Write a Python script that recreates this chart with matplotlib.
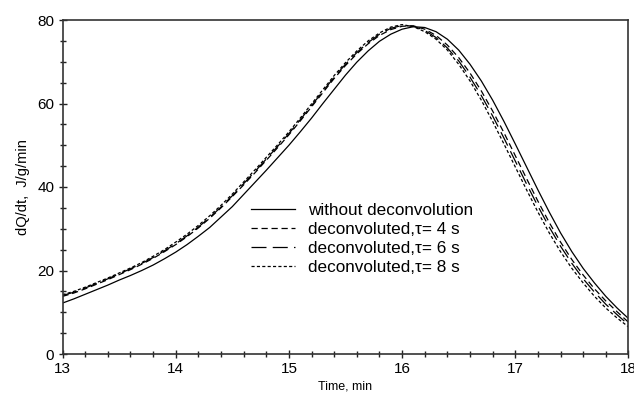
import numpy as np
import matplotlib
matplotlib.use("Agg")
import matplotlib.pyplot as plt
from matplotlib.ticker import MultipleLocator

plt.rcParams['font.family'] = ['Liberation Sans', 'DejaVu Sans']

# ===== data =====
t = np.round(np.arange(130, 181) / 10.0, 1)   # 13.0 ... 18.0 min

q_raw = [12.2, 13.2, 14.3, 15.4, 16.5, 17.7, 18.8, 20.0, 21.3, 22.8,
         24.4, 26.2, 28.2, 30.3, 32.8, 35.3, 38.2, 41.1, 44.0, 47.0,
         50.0, 53.2, 56.5, 60.0, 63.4, 66.8, 69.9, 72.6, 74.9, 76.6,
         77.8, 78.4, 78.2, 77.2, 75.4, 72.8, 69.4, 65.4, 60.8, 55.7,
         50.3, 44.8, 39.3, 34.0, 29.0, 24.5, 20.5, 17.0, 13.8, 11.0,
         8.5]

q_tau4 = [13.8, 14.6, 15.6, 16.7, 17.8, 19.0, 20.2, 21.5, 22.9, 24.5,
          26.2, 28.1, 30.2, 32.5, 35.0, 37.7, 40.5, 43.4, 46.4, 49.4,
          52.5, 55.8, 59.2, 62.6, 66.0, 69.1, 71.9, 74.3, 76.3, 77.7,
          78.5, 78.6, 77.8, 76.3, 74.0, 71.0, 67.3, 63.0, 58.2, 53.0,
          47.5, 42.0, 36.6, 31.5, 26.8, 22.6, 18.9, 15.6, 12.7, 10.1,
          7.6]

q_tau6 = [14.0, 14.8, 15.8, 16.9, 18.0, 19.2, 20.4, 21.7, 23.1, 24.7,
          26.4, 28.3, 30.4, 32.7, 35.2, 37.9, 40.8, 43.7, 46.7, 49.7,
          52.8, 56.1, 59.5, 62.9, 66.3, 69.4, 72.2, 74.6, 76.6, 78.0,
          78.7, 78.5, 77.5, 75.8, 73.3, 70.2, 66.3, 61.9, 57.0, 51.7,
          46.2, 40.7, 35.4, 30.4, 25.8, 21.7, 18.0, 14.8, 11.9, 9.4,
          7.0]

q_tau8 = [14.2, 15.0, 16.0, 17.1, 18.2, 19.4, 20.6, 21.9, 23.4, 25.0,
          26.8, 28.7, 30.8, 33.1, 35.6, 38.3, 41.2, 44.1, 47.1, 50.1,
          53.2, 56.5, 59.9, 63.3, 66.7, 69.8, 72.6, 75.0, 76.9, 78.3,
          78.9, 78.4, 77.2, 75.4, 72.8, 69.4, 65.4, 60.8, 55.7, 50.3,
          44.8, 39.3, 34.0, 29.0, 24.5, 20.5, 17.0, 13.8, 11.0, 8.6,
          6.5]

labels = ['without deconvolution',
          'deconvoluted,\u03c4= 4 s',
          'deconvoluted,\u03c4= 6 s',
          'deconvoluted,\u03c4= 8 s']

# ===== plot =====
fig = plt.figure(figsize=(6.34, 4.0), dpi=100)
ax = fig.add_axes([0.0986, 0.115, 0.8927, 0.835])

lw = 0.9
ax.plot(t, q_raw, color='black', lw=lw, label=labels[0])
ax.plot(t, q_tau4, color='black', lw=lw, dashes=(5, 3), label=labels[1])
ax.plot(t, q_tau6, color='black', lw=lw, dashes=(12, 5), label=labels[2])
ax.plot(t, q_tau8, color='black', lw=lw, dashes=(2.5, 1.8), label=labels[3])

ax.set_xlim(13, 18)
ax.set_ylim(0, 80)
ax.xaxis.set_major_locator(MultipleLocator(1))
ax.xaxis.set_minor_locator(MultipleLocator(0.2))
ax.yaxis.set_major_locator(MultipleLocator(20))
ax.yaxis.set_minor_locator(MultipleLocator(5))
ax.tick_params(which='both', direction='inout', width=1, colors='#222222',
               labelcolor='black', labelsize=11, pad=3)
ax.tick_params(which='major', length=6)
ax.tick_params(which='minor', length=5)
for sp in ax.spines.values():
    sp.set_linewidth(1.2)
    sp.set_color('#333333')

ax.set_xlabel('Time, min', fontsize=9, labelpad=3)
ax.set_ylabel('dQ/dt,  J/g/min', fontsize=10.5, labelpad=5)

ax.legend(loc='upper left', bbox_to_anchor=(0.318, 0.478), frameon=False,
          fontsize=12.3, handlelength=2.6, handletextpad=0.75,
          labelspacing=0.23, borderpad=0)

plt.savefig('out.png', dpi=100)
